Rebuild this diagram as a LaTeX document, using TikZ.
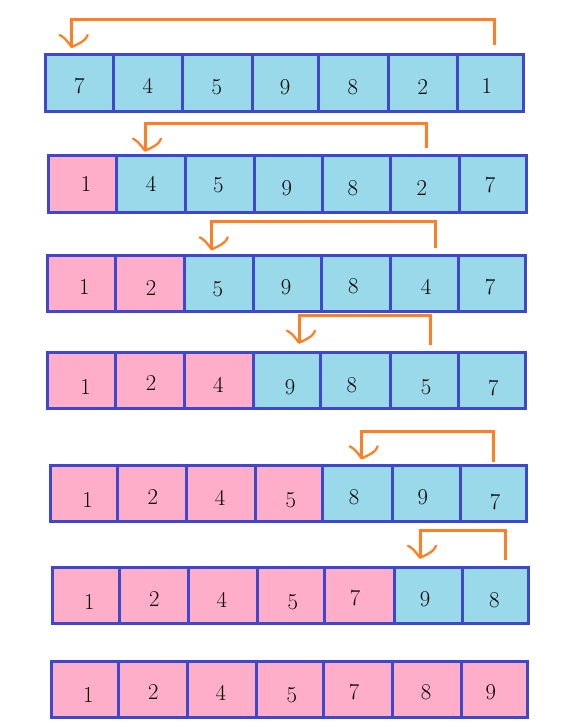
\documentclass[tikz,border=0pt]{standalone}
\definecolor{cblue}{RGB}{153,217,234}
\definecolor{cpink}{RGB}{255,174,201}
\definecolor{bord}{RGB}{63,72,204}
\definecolor{orng}{RGB}{255,127,39}
\begin{document}
\begin{tikzpicture}[x=0.75pt,y=-0.75pt,
  cellbox/.style={fill=#1, draw=bord, line width=2.25pt},
  digit/.style={font=\fontsize{17}{17}\selectfont, inner sep=0pt},
  swapline/.style={draw=orng, line width=2.25pt, line join=miter},
  headline/.style={draw=orng, line width=1.7pt, line cap=round, line join=round}]
\useasboundingbox (0,0) rectangle (563,727);
% row 1
\foreach \a/\b/\c in {45/113/cblue,113/182/cblue,182/252/cblue,252/318/cblue,318/388/cblue,388/457/cblue,457/523/cblue}
  \filldraw[cellbox=\c] (\a,55) rectangle (\b,112);
\foreach \d/\x/\y [count=\i] in {7/79.3/86,4/147.7/86,5/216.7/87.3,9/285/87.3,8/352.7/87.3,2/422.7/87.3,1/486.7/86}
  \node[digit] (ra\i) at (\x,\y) {\d};
% row 2
\foreach \a/\b/\c in {48.3/116/cpink,116/185.7/cblue,185.7/254.3/cblue,254.3/322.7/cblue,322.7/390.7/cblue,390.7/459.3/cblue,459.3/526/cblue}
  \filldraw[cellbox=\c] (\a,156) rectangle (\b,212.7);
\foreach \d/\x/\y [count=\i] in {1/86/184.3,4/151/184.3,5/218.3/185,9/286.7/187.7,8/352.7/187.7,2/421.7/187.7,7/490/185}
  \node[digit] (rb\i) at (\x,\y) {\d};
% row 3
\foreach \a/\b/\c in {47.3/115/cpink,115/184/cpink,184/253.3/cblue,253.3/321/cblue,321/390/cblue,390/458.3/cblue,458.3/525/cblue}
  \filldraw[cellbox=\c] (\a,255) rectangle (\b,311);
\foreach \d/\x/\y [count=\i] in {1/84.3/286.7,2/151/288.3,5/217.7/289,9/286/286.7,8/353.3/285.7,4/426/286.7,7/490/286.7}
  \node[digit] (rc\i) at (\x,\y) {\d};
% row 4
\foreach \a/\b/\c in {47.3/115.7/cpink,115.7/184.3/cpink,184.3/253.3/cpink,253.3/320.7/cblue,320.7/390/cblue,390/458.3/cblue,458.3/525/cblue}
  \filldraw[cellbox=\c] (\a,352.3) rectangle (\b,408.3);
\foreach \d/\x/\y [count=\i] in {1/85.7/386.7,2/151/383.3,4/218.3/385,9/290/386.7,8/351.7/385,5/426/386.7,7/493.3/388.3}
  \node[digit] (rd\i) at (\x,\y) {\d};
% row 5
\foreach \a/\b/\c in {50/117.3/cpink,117.3/186/cpink,186/255.7/cpink,255.7/322.7/cpink,322.7/392.3/cblue,392.3/460.7/cblue,460.7/526/cblue}
  \filldraw[cellbox=\c] (\a,465) rectangle (\b,521);
\foreach \d/\x/\y [count=\i] in {1/87.7/500,2/152.7/496.7,4/220/498.3,5/290.7/500,8/354/497.3,9/422.7/497.3,7/495/501.7}
  \node[digit] (re\i) at (\x,\y) {\d};
% row 6
\foreach \a/\b/\c in {52.3/119.3/cpink,119.3/188.3/cpink,188.3/257.7/cpink,257.7/324.3/cpink,324.3/394/cpink,394/462.7/cblue,462.7/528.3/cblue}
  \filldraw[cellbox=\c] (\a,567.3) rectangle (\b,623.3);
\foreach \d/\x/\y [count=\i] in {1/89.3/601.7,2/154.3/599,4/221.7/600,5/292.7/602.3,7/355/598.3,9/425/599,8/494.3/600}
  \node[digit] (rf\i) at (\x,\y) {\d};
% row 7
\foreach \a/\b/\c in {51/118.3/cpink,118.3/187/cpink,187/256.7/cpink,256.7/323.3/cpink,323.3/392.3/cpink,392.3/461.7/cpink,461.7/527.7/cpink}
  \filldraw[cellbox=\c] (\a,661) rectangle (\b,717.7);
\foreach \d/\x/\y [count=\i] in {1/88.3/695,2/153.3/691.7,4/220.7/692.7,5/291.7/695,7/354/691.7,8/426/691.7,9/490.7/691.7}
  \node[digit] (rg\i) at (\x,\y) {\d};
% swap connectors
\foreach \n/\sx/\sy/\ty/\tx/\tt in {a/494/45/20/71.7/47, b/426/148.3/123.3/145/150.7, c/435/248.3/221.7/211.7/249.3, d/430/345/315.7/299/342.7, e/493.3/461.7/431.7/361.7/458.3, f/505.7/560/530/420/557.7}{
  \coordinate (s\n) at (\sx,\sy);
  \coordinate (k\n) at (\tx,\ty);
  \coordinate (t\n) at (\tx,\tt);
  \draw[swapline] (s\n) |- (k\n) -- (t\n);
  \draw[headline] (t\n) ++(-12,-12) .. controls +(5,3) .. (t\n) .. controls +(7,-3) and +(-1,5) .. +(16,-12);
}
\end{tikzpicture}
\end{document}
